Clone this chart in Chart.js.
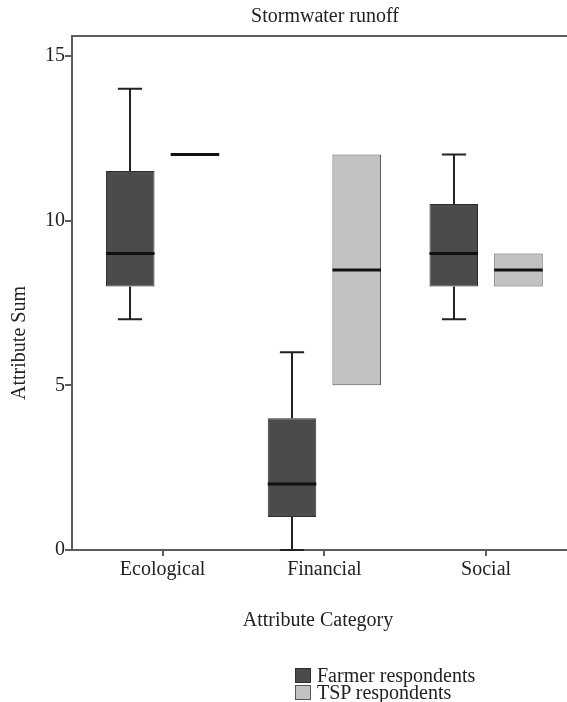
<!DOCTYPE html>
<html>
<head>
<meta charset="utf-8">
<script src="https://cdn.jsdelivr.net/npm/chart.js@4.4.0/dist/chart.umd.min.js"></script>
<style>
  body { margin: 0; background: #fff; }
  #wrap { position: relative; width: 567px; height: 702px; }
  #legend { position: absolute; left: 295px; top: 667px; font-family: 'Liberation Serif', serif; font-size: 20px; line-height: 17px; color: #222; }
  .legend-item { display: flex; align-items: center; height: 17px; }
  .legend-box { width: 16px; height: 15px; margin-right: 6px; box-sizing: border-box; }
</style>
</head>
<body>
<div id="wrap">
  <canvas id="myChart" width="567" height="702"></canvas>
  <div id="legend"></div>
</div>
<script>
let categories = ['Ecological', 'Financial', 'Social'];
let seriesNames = ['Farmer respondents', 'TSP respondents'];

let farmerMin = [7, 0, 7];
let farmerQ1 = [8, 1, 8];
let farmerMedian = [9, 2, 9];
let farmerQ3 = [11.5, 4, 10.5];
let farmerMax = [14, 6, 12];

let tspMin = [12, 5, 8];
let tspQ1 = [12, 5, 8];
let tspMedian = [12, 8.5, 8.5];
let tspQ3 = [12, 12, 9];
let tspMax = [12, 12, 9];

let yTicks = [0, 5, 10, 15];

let fillColors = ['#4b4b4b', '#c2c2c2'];
let edgeColors = ['#2f2f2f', '#555555'];
let axisColor = '#5c5c5c';
let fontFamily = "'Liberation Serif', serif";

// x is a linear index axis so the categories can sit with the same side gaps as the original
function boxRanges(q1, q3) {
  let ranges = [];
  for (let i = 0; i < q1.length; i++) {
    ranges.push({ x: i, y: [q1[i], q3[i]] });
  }
  return ranges;
}

let whiskerData = [
  { min: farmerMin, q1: farmerQ1, median: farmerMedian, q3: farmerQ3, max: farmerMax },
  { min: tspMin, q1: tspQ1, median: tspMedian, q3: tspQ3, max: tspMax }
];

function drawWhisker(ctx, x, cap, from, to) {
  ctx.beginPath();
  ctx.moveTo(x, from);
  ctx.lineTo(x, to);
  ctx.moveTo(x - cap, to);
  ctx.lineTo(x + cap, to);
  ctx.stroke();
}

let boxPlotPlugin = {
  id: 'boxPlot',
  beforeDatasetsDraw(chart) {
    let ctx = chart.ctx;
    let y = chart.scales.y;
    ctx.save();
    ctx.strokeStyle = '#222';
    ctx.lineWidth = 2;
    for (let d = 0; d < whiskerData.length; d++) {
      let meta = chart.getDatasetMeta(d);
      let w = whiskerData[d];
      meta.data.forEach((bar, i) => {
        let cap = bar.width * 0.25;
        let x = Math.round(bar.x);
        if (w.max[i] > w.q3[i]) {
          drawWhisker(ctx, x, cap, y.getPixelForValue(w.q3[i]), y.getPixelForValue(w.max[i]));
        }
        if (w.min[i] < w.q1[i]) {
          drawWhisker(ctx, x, cap, y.getPixelForValue(w.q1[i]), y.getPixelForValue(w.min[i]));
        }
      });
    }
    ctx.restore();
  },
  afterDatasetsDraw(chart) {
    let ctx = chart.ctx;
    let y = chart.scales.y;
    ctx.save();
    ctx.strokeStyle = '#111';
    ctx.lineWidth = 3;
    for (let d = 0; d < whiskerData.length; d++) {
      let meta = chart.getDatasetMeta(d);
      meta.data.forEach((bar, i) => {
        let yy = y.getPixelForValue(whiskerData[d].median[i]);
        ctx.beginPath();
        ctx.moveTo(bar.x - bar.width / 2, yy);
        ctx.lineTo(bar.x + bar.width / 2, yy);
        ctx.stroke();
      });
    }
    ctx.restore();
  },
  afterDraw(chart) {
    let ctx = chart.ctx;
    let area = chart.chartArea;
    ctx.save();
    ctx.strokeStyle = axisColor;
    ctx.lineWidth = 2;
    ctx.beginPath();
    ctx.moveTo(area.left - 1, area.top);
    ctx.lineTo(chart.width, area.top);
    ctx.stroke();

    ctx.fillStyle = '#222';
    ctx.font = '20px ' + fontFamily;
    ctx.textAlign = 'center';
    ctx.textBaseline = 'middle';
    ctx.fillText('Stormwater runoff', 325, 17);
    ctx.fillText('Attribute Category', 318, 621);
    ctx.translate(20, 343);
    ctx.rotate(-Math.PI / 2);
    ctx.fillText('Attribute Sum', 0, 0);
    ctx.restore();
  }
};

function renderLegend() {
  let html = '';
  for (let i = 0; i < seriesNames.length; i++) {
    html += `
      <div class="legend-item">
        <div class="legend-box" style="background:${fillColors[i]};border:1px solid ${edgeColors[i]}"></div>
        <span>${seriesNames[i]}</span>
      </div>`;
  }
  document.getElementById('legend').innerHTML = html;
}

function renderChart() {
  const ctx = document.getElementById('myChart');
  new Chart(ctx, {
    type: 'bar',
    data: {
      datasets: [
        {
          label: seriesNames[0],
          data: boxRanges(farmerQ1, farmerQ3),
          backgroundColor: fillColors[0],
          borderColor: edgeColors[0],
          borderWidth: 1,
          borderSkipped: false,
          categoryPercentage: 0.8,
          barPercentage: 0.75
        },
        {
          label: seriesNames[1],
          data: boxRanges(tspQ1, tspQ3),
          backgroundColor: fillColors[1],
          borderColor: edgeColors[1],
          borderWidth: 1,
          borderSkipped: false,
          categoryPercentage: 0.8,
          barPercentage: 0.75
        }
      ]
    },
    options: {
      responsive: false,
      animation: false,
      layout: { padding: { top: 36, right: 0, bottom: 0, left: 0 } },
      plugins: {
        legend: { display: false },
        title: { display: false },
        tooltip: { enabled: false }
      },
      scales: {
        x: {
          type: 'linear',
          min: -0.56,
          max: 2.5,
          offset: false,
          grid: { offset: false, drawOnChartArea: false, drawTicks: true, tickLength: 6, color: axisColor, lineWidth: 2 },
          border: { display: true, color: axisColor, width: 2 },
          ticks: {
            color: '#222',
            font: { family: fontFamily, size: 20 },
            padding: 2,
            callback: v => categories[v]
          },
          afterBuildTicks(scale) { scale.ticks = categories.map((c, i) => ({ value: i })); },
          afterFit(scale) { scale.height = 152; }
        },
        y: {
          min: 0,
          max: 15.6,
          grid: { drawOnChartArea: false, drawTicks: true, tickLength: 7, color: axisColor, lineWidth: 2 },
          border: { display: true, color: axisColor, width: 2 },
          ticks: { color: '#222', font: { family: fontFamily, size: 20 }, padding: 0 },
          afterBuildTicks(scale) { scale.ticks = yTicks.map(v => ({ value: v })); },
          afterFit(scale) { scale.width = 72; }
        }
      }
    },
    plugins: [boxPlotPlugin]
  });
}

renderLegend();
renderChart();
</script>
</body>
</html>
